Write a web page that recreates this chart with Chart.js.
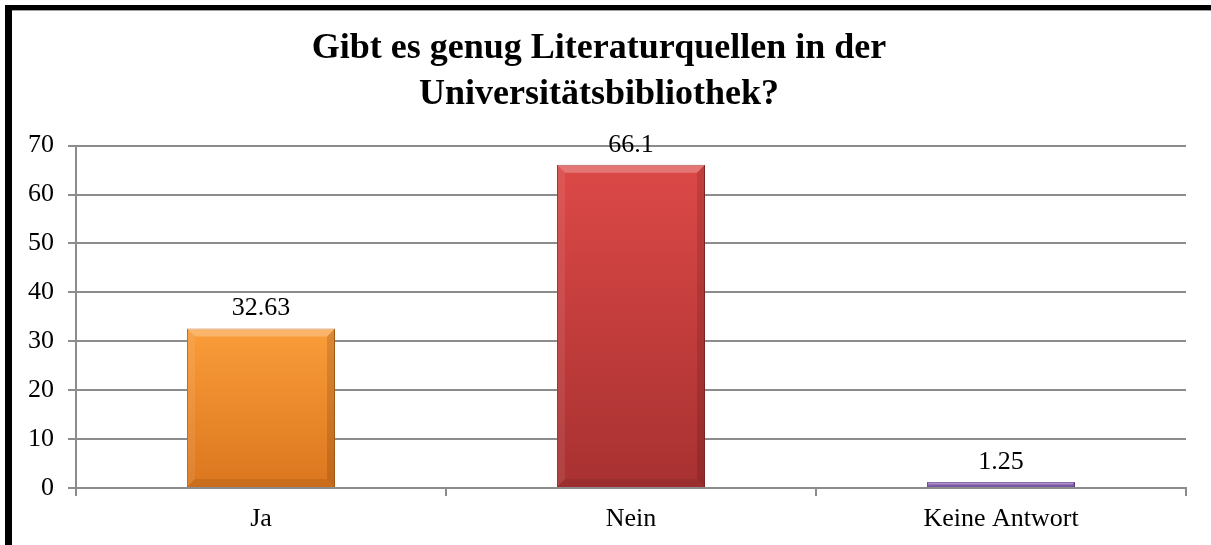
<!DOCTYPE html>
<html>
<head>
<meta charset="utf-8">
<script src="https://cdn.jsdelivr.net/npm/chart.js@4"></script>
<style>
  body { margin: 0; background: #fff; }
  #wrap {
    position: absolute; left: 5px; top: 5px;
    width: 1199px; height: 535px;
    border-top: 5px solid #000;
    border-left: 7px solid #000;
    box-shadow: inset 0 1px 0 #a0a0a0;
  }
  canvas { display: block; }
</style>
</head>
<body>
<div id="wrap"><canvas id="myChart" width="1199" height="535"></canvas></div>
<script>
const categories = ["Ja", "Nein", "Keine Antwort"];
const values = [32.63, 66.1, 1.25];
const valueLabels = ["32.63", "66.1", "1.25"];
const yTicks = [0, 10, 20, 30, 40, 50, 60, 70];
// top colour / bottom colour for each bar
const topColors = ["#fa9d3a", "#dc4947", "#9a72c9"];
const bottomColors = ["#db761e", "#a83131", "#7b55a8"];
const edgeColors = ["#b9641a", "#8e2a2a", "#5f3f88"];

const serif = "'Liberation Serif', 'Times New Roman', serif";

function barGradient(ctx) {
    const chart = ctx.chart;
    const area = chart.chartArea;
    if (!area) return topColors[ctx.dataIndex];
    const y = chart.scales.y;
    const top = y.getPixelForValue(values[ctx.dataIndex]);
    const g = chart.ctx.createLinearGradient(0, top, 0, y.getPixelForValue(0));
    g.addColorStop(0, topColors[ctx.dataIndex]);
    g.addColorStop(1, bottomColors[ctx.dataIndex]);
    return g;
}

// little bevel on top and sides of each bar, like the office chart
const bevel = {
    id: "bevel",
    afterDatasetsDraw(chart) {
        const c = chart.ctx;
        chart.getDatasetMeta(0).data.forEach((bar, i) => {
            const left = bar.x - bar.width / 2, right = bar.x + bar.width / 2;
            const top = bar.y, bottom = bar.base;
            const b = Math.min(8, (bottom - top) / 2);
            c.save();
            c.fillStyle = "rgba(255,255,255,0.25)";
            c.beginPath();
            c.moveTo(left, top); c.lineTo(right, top);
            c.lineTo(right - b, top + b); c.lineTo(left + b, top + b);
            c.closePath(); c.fill();
            c.fillStyle = "rgba(0,0,0,0.12)";
            c.beginPath();
            c.moveTo(right, top); c.lineTo(right, bottom);
            c.lineTo(right - b, bottom - b); c.lineTo(right - b, top + b);
            c.closePath(); c.fill();
            c.fillStyle = "rgba(0,0,0,0.08)";
            c.beginPath();
            c.moveTo(left, bottom); c.lineTo(right, bottom);
            c.lineTo(right - b, bottom - b); c.lineTo(left + b, bottom - b);
            c.closePath(); c.fill();
            c.fillStyle = "rgba(255,255,255,0.08)";
            c.beginPath();
            c.moveTo(left, top); c.lineTo(left + b, top + b);
            c.lineTo(left + b, bottom - b); c.lineTo(left, bottom);
            c.closePath(); c.fill();
            c.restore();
        });
    }
};

const valueLabelsPlugin = {
    id: "valueLabels",
    afterDatasetsDraw(chart) {
        const c = chart.ctx;
        c.save();
        c.font = "26px " + serif;
        c.fillStyle = "#000";
        c.textAlign = "center";
        c.textBaseline = "alphabetic";
        chart.getDatasetMeta(0).data.forEach((bar, i) => {
            c.fillText(valueLabels[i], bar.x, bar.y - 13);
        });
        c.restore();
    }
};

new Chart(document.getElementById("myChart"), {
    type: "bar",
    data: {
        labels: categories,
        datasets: [{
            data: values,
            backgroundColor: barGradient,
            borderColor: edgeColors,
            borderWidth: 1,
            categoryPercentage: 1,
            barPercentage: 0.4,
        }]
    },
    options: {
        responsive: false,
        animation: false,
        layout: { padding: { top: 0, right: 25, bottom: 0, left: 0 } },
        plugins: {
            legend: { display: false },
            tooltip: { enabled: false },
            title: {
                display: true,
                text: ["Gibt es genug Literaturquellen in der", "Universitätsbibliothek?"],
                color: "#000",
                font: { family: serif, size: 36, weight: "bold", lineHeight: 1.3 },
                padding: { top: 15, bottom: 27 },
            }
        },
        scales: {
            x: {
                grid: { drawOnChartArea: false, offset: true, tickLength: 8, color: "#8c8c8c", lineWidth: 2 },
                border: { color: "#8c8c8c", width: 2 },
                ticks: { color: "#000", font: { family: serif, size: 26 }, padding: 8 },
                afterFit(scale) { scale.height = 57; }
            },
            y: {
                min: 0,
                max: 70,
                afterBuildTicks(scale) { scale.ticks = yTicks.map(v => ({ value: v })); },
                grid: { color: "#8c8c8c", lineWidth: 2, tickLength: 8 },
                border: { color: "#8c8c8c", width: 2 },
                ticks: { color: "#000", font: { family: serif, size: 26 }, padding: 14 },
                afterFit(scale) { scale.width = 64; }
            }
        }
    },
    plugins: [bevel, valueLabelsPlugin]
});
</script>
</body>
</html>
